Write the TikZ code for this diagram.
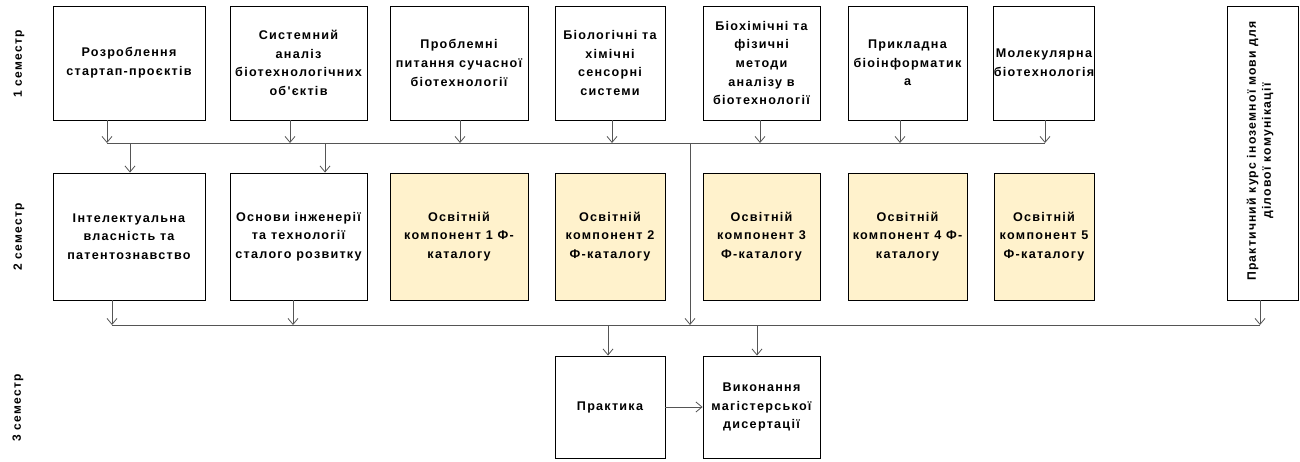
\documentclass[tikz,border=0pt]{standalone}
\usepackage{fontspec}
\setmainfont{Liberation Sans}
\newfontfamily\spacedfont[LetterSpace=10]{Liberation Sans}
\usetikzlibrary{arrows.meta}
\definecolor{catyellow}{HTML}{FFF2CC}
\definecolor{conn}{HTML}{555555}
\begin{document}
\begin{tikzpicture}[x=1pt,y=-1pt,
  box/.style={draw=black, line width=0.9pt, align=center, inner sep=0.5pt,
    font=\spacedfont\bfseries\fontsize{12.6}{18.7}\selectfont},
  catbox/.style={box, fill=catyellow},
  semlabel/.style={rotate=90, font=\spacedfont\bfseries\fontsize{12}{14}\selectfont},
  link/.style={draw=conn, line width=0.8pt},
  arr/.style={link, -{Straight Barb[length=6pt,width=10pt]}}]
\useasboundingbox (0,0) rectangle (1300,461);
% semester labels
\node[semlabel] (s1l) at (19,64) {1 семестр};
\node[semlabel] (s2l) at (19,237) {2 семестр};
\node[semlabel] (s3l) at (18,408) {3 семестр};
% row 1
\node[box, minimum width=152pt, minimum height=114pt] (b1) at (129,63) {Розроблення\\стартап-проєктів};
\node[box, minimum width=137pt, minimum height=114pt] (b2) at (298.5,63) {Системний\\аналіз\\біотехнологічних\\об'єктів};
\node[box, minimum width=138pt, minimum height=114pt] (b3) at (459,63) {Проблемні\\питання сучасної\\біотехнології};
\node[box, minimum width=110pt, minimum height=114pt] (b4) at (610,63) {Біологічні та\\хімічні\\сенсорні\\системи};
\node[box, minimum width=117pt, minimum height=114pt] (b5) at (761.5,63) {Біохімічні та\\фізичні\\методи\\аналізу в\\біотехнології};
\node[box, minimum width=119pt, minimum height=114pt] (b6) at (907.5,63) {Прикладна\\біоінформатик\\а};
\node[box, minimum width=100pt, minimum height=114pt] (b7) at (1044,63) {Молекулярна\\біотехнологія};
% tall box
\node[box, minimum width=71pt, minimum height=294pt] (tall) at (1262.5,153) {};
\node[rotate=90, align=center, font=\spacedfont\bfseries\fontsize{12.2}{15}\selectfont] (talltext) at (1260,151) {Практичний курс іноземної мови для\\ділової комунікації};
% row 2
\node[box, minimum width=152pt, minimum height=127pt] (a1) at (129,236.5) {Інтелектуальна\\власність та\\патентознавство};
\node[box, minimum width=137pt, minimum height=127pt] (a2) at (298.5,236.5) {Основи інженерії\\та технології\\сталого розвитку};
\node[catbox, minimum width=138pt, minimum height=127pt] (a3) at (459,236.5) {Освітній\\компонент 1 Ф-\\каталогу};
\node[catbox, minimum width=110pt, minimum height=127pt] (a4) at (610,236.5) {Освітній\\компонент 2\\Ф-каталогу};
\node[catbox, minimum width=117pt, minimum height=127pt] (a5) at (761.5,236.5) {Освітній\\компонент 3\\Ф-каталогу};
\node[catbox, minimum width=119pt, minimum height=127pt] (a6) at (907.5,236.5) {Освітній\\компонент 4 Ф-\\каталогу};
\node[catbox, minimum width=100pt, minimum height=127pt] (a7) at (1044,236.5) {Освітній\\компонент 5\\Ф-каталогу};
% row 3
\node[box, minimum width=110pt, minimum height=102pt] (p) at (610,407) {Практика};
\node[box, minimum width=117pt, minimum height=102pt] (v) at (761.5,407) {Виконання\\магістерської\\дисертації};
% bus coordinates
\coordinate (t1) at (107,143);
\coordinate (t2) at (290,143);
\coordinate (t3) at (460,143);
\coordinate (t4) at (612,143);
\coordinate (t5) at (760,143);
\coordinate (t6) at (900,143);
\coordinate (t7) at (1045,143);
\coordinate (s1) at (130,143);
\coordinate (s2) at (325,143);
\coordinate (m1) at (690,143);
\coordinate (m2) at (690,325);
\coordinate (u1) at (112,325);
\coordinate (u2) at (293,325);
\coordinate (u3) at (1260,325);
\coordinate (d1) at (608,325);
\coordinate (d2) at (757,325);
% connectors row 1 -> bus
\foreach \i in {1,...,7} {\draw[arr] (b\i.south -| t\i) -- (t\i);}
\draw[link] (t1) -- (t7);
\draw[arr] (s1) -- (s1 |- a1.north);
\draw[arr] (s2) -- (s2 |- a2.north);
\draw[arr] (m1) -- (m2);
% row 2 -> bus 2
\draw[arr] (a1.south -| u1) -- (u1);
\draw[arr] (a2.south -| u2) -- (u2);
\draw[arr] (tall.south -| u3) -- (u3);
\draw[link] (u1) -- (u3);
\draw[arr] (d1) -- (d1 |- p.north);
\draw[arr] (d2) -- (d2 |- v.north);
\draw[arr] (p.east) -- (v.west);
\end{tikzpicture}
\end{document}
